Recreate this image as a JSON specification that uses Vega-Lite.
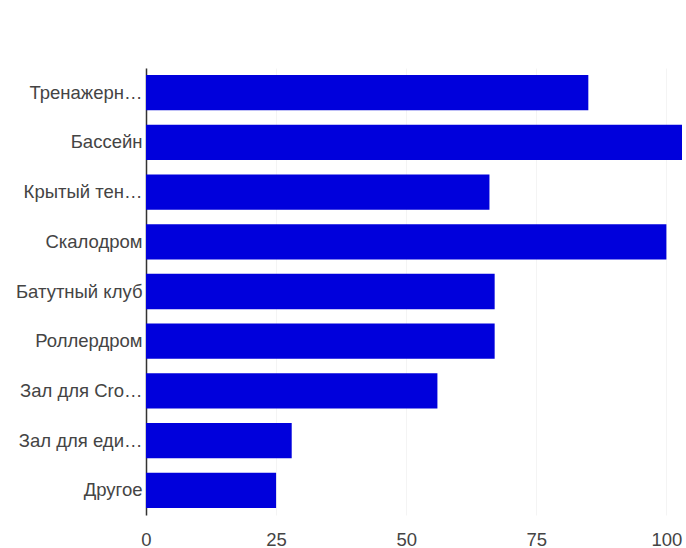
{
  "$schema": "https://vega.github.io/schema/vega-lite/v6.json",
  "width": 536,
  "height": 447,
  "autosize": {"type": "none"},
  "padding": {"left": 146, "top": 68, "right": 4, "bottom": 33},
  "background": "white",
  "data": {
    "values": [
      {"name": "Тренажерн…", "count": 85},
      {"name": "Бассейн", "count": 103},
      {"name": "Крытый тен…", "count": 66},
      {"name": "Скалодром", "count": 100},
      {"name": "Батутный клуб", "count": 67},
      {"name": "Роллердром", "count": 67},
      {"name": "Зал для Cro…", "count": 56},
      {"name": "Зал для еди…", "count": 28},
      {"name": "Другое", "count": 25}
    ]
  },
  "config": {
    "view": {"stroke": null},
    "font": "Liberation Sans"
  },
  "mark": {"type": "bar", "color": "#0000dc"},
  "encoding": {
    "y": {
      "field": "name",
      "type": "nominal",
      "sort": null,
      "title": null,
      "scale": {"paddingInner": 0.29, "paddingOuter": 0.14},
      "axis": {
        "domainColor": "#333333",
        "domainWidth": 1.5,
        "ticks": false,
        "labelPadding": 4,
        "labelFontSize": 18.5,
        "labelColor": "#444444",
        "labelFont": "Liberation Sans",
        "labelLimit": 200
      }
    },
    "x": {
      "field": "count",
      "type": "quantitative",
      "title": null,
      "scale": {"domain": [0, 103], "nice": false},
      "axis": {
        "values": [0, 25, 50, 75, 100],
        "domain": false,
        "ticks": false,
        "grid": true,
        "gridColor": "#f4f4f4",
        "labelFontSize": 18.5,
        "labelColor": "#444444",
        "labelFont": "Liberation Sans",
        "labelPadding": 15,
        "labelFlush": false
      }
    }
  }
}
